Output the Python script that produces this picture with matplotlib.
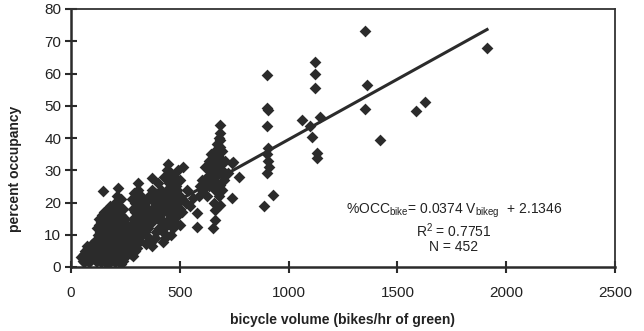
import numpy as np
import matplotlib
matplotlib.use("Agg")
import matplotlib.pyplot as plt

plt.rcParams['font.family'] = ['Liberation Sans', 'DejaVu Sans']
plt.rcParams['mathtext.fontset'] = 'custom'
plt.rcParams['mathtext.rm'] = 'Liberation Sans'

# bicycle volume (bikes/hr of green) and percent occupancy
vol_low = [45, 55, 60, 65, 70, 75, 80, 85, 90, 95, 100, 105, 110, 62, 78, 88, 98, 115, 120, 72,
           120, 121, 119, 122, 118,
           130, 131, 129, 132, 128, 130,
           140, 141, 139, 142, 138, 140, 141,
           150, 151, 149, 152, 148, 150, 151, 148,
           160, 161, 159, 162, 158, 160,
           170, 171, 169, 172, 168, 170, 171,
           180, 181, 179, 182, 178, 180, 181,
           190, 191, 189, 192, 188, 190,
           200, 201, 199, 202, 198, 200, 201,
           210, 211, 209, 212, 208, 210, 211,
           220, 221, 219, 222, 218, 220, 217,
           230, 231, 229, 232, 228, 230, 231,
           240, 241, 239, 242, 238, 240,
           250, 251, 249, 252, 248,
           260, 261, 259]
occ_low = [3, 2, 4, 5, 2.5, 3.5, 6, 1.5, 4, 7, 3, 5, 8, 1.5, 4.5, 2, 5.5, 2, 6, 6.5,
           2, 5, 8, 10, 12,
           3, 6, 9, 11, 13, 15,
           1.5, 4, 7, 10, 12, 14, 16,
           2, 5, 8, 11, 13, 15, 17, 23.5,
           3, 6, 9, 12, 14, 16,
           1, 4, 7, 10, 13, 15, 18,
           2, 5, 8, 11, 14, 16, 19,
           3, 6, 9, 12, 15, 17,
           1.5, 4, 7, 10, 13, 16, 20,
           2.5, 5, 8, 11, 14, 18, 22,
           3, 6, 9, 12, 15, 19, 24.5,
           1, 4, 7, 10, 13, 16, 21,
           2, 5, 8, 11, 14, 18,
           3, 6, 9, 12, 15,
           8, 11, 13]

vol_mid = [275, 276, 274, 277, 280, 290,
           285, 286, 284, 287, 283, 285,
           295, 296, 294, 297, 293, 295,
           305, 306, 304, 307, 303, 305, 306,
           315, 316, 314, 317, 313, 309,
           325, 326, 324, 327, 323,
           340, 341, 339, 342, 345,
           355, 356, 354, 357, 360,
           370, 371, 369, 372, 371, 374,
           385, 386, 384, 387, 390,
           400, 401, 399, 402, 424, 386, 405,
           410, 411, 409, 412,
           425, 426, 424, 427, 428, 432,
           440, 441, 439, 442, 443,
           450, 451, 449, 452, 447,
           460, 461, 459, 462, 458, 460,
           470, 471, 469, 472, 468,
           480, 481, 479, 482, 478,
           490, 491, 489, 492,
           500, 501, 499, 502,
           510, 511, 516,
           530, 531, 545, 562]
occ_mid = [4, 7, 10, 13, 21, 23,
           3.5, 6, 9, 12, 15, 18,
           5, 8, 11, 14, 17, 20,
           6, 9, 12, 15, 18, 21, 24,
           8, 11, 14, 17, 20, 26,
           10, 13, 16, 19, 22,
           11, 14, 17, 20, 7,
           12, 15, 18, 22, 9,
           14, 17, 21, 24, 27.5, 6.5,
           9, 16, 19, 23, 11,
           15, 18, 21, 26, 7.8, 8.9, 12,
           12, 16, 20, 24,
           11, 14, 18, 22, 28, 9,
           13, 17, 20, 24, 30,
           15, 19, 22, 26, 32,
           10, 14, 18, 21, 25, 29,
           12, 16, 20, 23, 27,
           14, 18, 22, 25, 28,
           16, 20, 24, 30,
           13, 18, 22, 27,
           17, 21, 31,
           20, 24, 19, 21.3]

vol_high = [578, 578, 590, 591, 600, 601, 616, 617, 625, 626,
            635, 636, 634, 645, 646, 644, 654, 655, 653, 654,
            662, 662, 663, 661, 662, 670, 671, 669,
            680, 681, 679, 680, 685, 685, 686, 685, 684, 685, 686,
            695, 696, 694, 705, 706, 720, 738, 738, 746, 773]
occ_high = [16.6, 12.5, 22, 25, 24, 27, 31.1, 26, 22, 28,
            25, 30, 33, 27, 31, 35, 12, 20, 28, 33,
            17.7, 14.6, 24, 30, 36, 26, 32, 38,
            22, 29, 34, 40, 44, 41.5, 39.4, 37.3, 31.6, 25.4, 19.2,
            24, 30, 36, 27, 33, 29, 32.2, 21.3, 32.6, 28]

vol_out = [899, 899, 905, 899, 905, 900, 905, 910, 900, 929, 887,
           1121, 1121, 1121, 1144, 1060, 1098, 1106, 1129, 1129,
           1351, 1362, 1351, 1420, 1584, 1627, 1910]
occ_out = [59.5, 49.2, 48.7, 43.7, 37, 35, 33, 31, 29, 22.3, 18.9,
           63.7, 60, 55.4, 46.6, 45.6, 43.7, 40.4, 35.3, 33.8,
           73.2, 56.4, 49.1, 39.4, 48.4, 51.3, 67.8]

slope = 0.0374
intercept = 2.1346
fit_range = [60, 1912]

volume = np.array(vol_low + vol_mid + vol_high + vol_out, dtype=float)
occupancy = np.array(occ_low + occ_mid + occ_high + occ_out, dtype=float)

fig = plt.figure(figsize=(6.44, 3.31), dpi=100)
ax = fig.add_axes([71 / 644, 1 - 267 / 331, 544 / 644, 258 / 331])

ink = '#2b2b2b'
ax.scatter(volume, occupancy, marker='D', s=36, color=ink, linewidths=0, zorder=2)
xf = np.array(fit_range, dtype=float)
ax.plot(xf, slope * xf + intercept, color=ink, lw=2.2, zorder=3)

ax.set_xlim(0, 2500)
ax.set_ylim(0, 80)
ax.set_xticks(np.arange(0, 2501, 500))
ax.set_yticks(np.arange(0, 81, 10))

for side in ['left', 'bottom']:
    ax.spines[side].set_linewidth(1.8)
    ax.spines[side].set_color(ink)
for side in ['top', 'right']:
    ax.spines[side].set_linewidth(1.3)
    ax.spines[side].set_color('#333333')

ax.tick_params(direction='inout', length=8, width=1.5, color=ink, labelsize=11, labelcolor='#222222')
ax.tick_params(axis='x', pad=10)
ax.tick_params(axis='y', pad=3)

ax.set_xlabel('bicycle volume (bikes/hr of green)', fontsize=10, fontweight='bold', color='#222222')
ax.xaxis.set_label_coords(0.5, -0.178)
ax.set_ylabel('percent occupancy', fontsize=10, fontweight='bold', color='#222222')
ax.yaxis.set_label_coords(-0.09, 0.38)

ax.text(1759, 17.3, r'%OCC$_{\rm bike}$= 0.0374 V$_{\rm bikeg}$  + 2.1346', ha='center', va='center',
        fontsize=10, color='#222222')
ax.text(1759, 11.2, r'R$^{2}$ = 0.7751', ha='center', va='center', fontsize=10, color='#222222')
ax.text(1759, 6.2, 'N = 452', ha='center', va='center', fontsize=10, color='#222222')

fig.savefig('out.png', dpi=100)
